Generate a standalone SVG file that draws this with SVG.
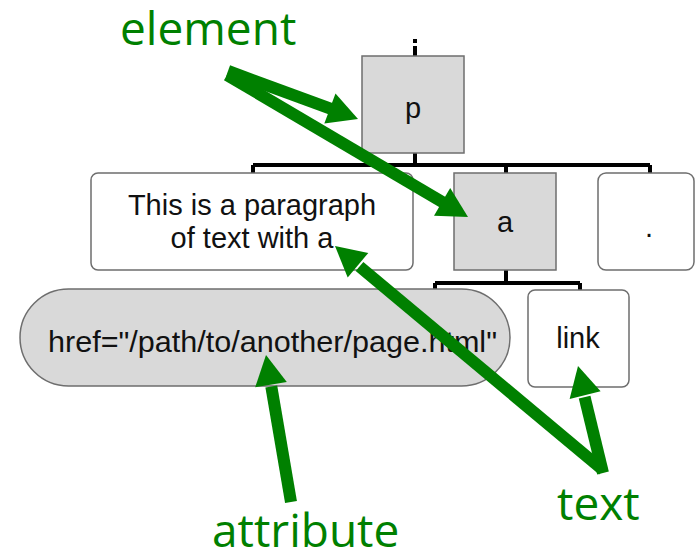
<svg xmlns="http://www.w3.org/2000/svg" width="696" height="552" viewBox="0 0 696 552">
  <style>
    .el { fill: #d9d9d9; stroke: #6e6e6e; stroke-width: 1.5; }
    .tx { fill: #ffffff; stroke: #6e6e6e; stroke-width: 1.5; }
    .lbl { font-family: "Liberation Sans", Arial, sans-serif; font-size: 29px; fill: #111111; text-anchor: middle; }
    .tree { fill: none; stroke: #000000; stroke-width: 4; }
    .note { font-family: "Open Sans", "Noto Sans", sans-serif; font-size: 46px; fill: #008000; }
    .shaft { fill: none; stroke: #008000; stroke-width: 12; }
    .head { fill: #008000; }
  </style>
  <rect width="696" height="552" fill="#ffffff"/>

  <!-- tree connectors -->
  <g id="connectors">
    <line class="tree" x1="415" y1="39" x2="415" y2="43"/>
    <line class="tree" x1="415" y1="46" x2="415" y2="56"/>
    <path class="tree" d="M415 153 V165 M253 165 H650 M253 165 V173 M506 165 V173 M650 165 V173"/>
    <path class="tree" d="M506 270 V283 M435 283 H580 M435 283 V289 M580 283 V290"/>
  </g>

  <!-- element p -->
  <g id="node-p">
    <rect class="el" x="362" y="56" width="102" height="97"/>
    <text class="lbl" x="413" y="118">p</text>
  </g>

  <!-- text node -->
  <g id="node-paragraph-text">
    <rect class="tx" x="91" y="173" width="322" height="97" rx="7"/>
    <text class="lbl" x="252" y="215">This is a paragraph</text>
    <text class="lbl" x="252" y="248">of text with a</text>
  </g>

  <!-- element a -->
  <g id="node-a">
    <rect class="el" x="454" y="173" width="102" height="97"/>
    <text class="lbl" x="505" y="232">a</text>
  </g>

  <!-- trailing period text -->
  <g id="node-period">
    <rect class="tx" x="598" y="173" width="96" height="97" rx="8"/>
    <text class="lbl" x="649" y="237">.</text>
  </g>

  <!-- attribute -->
  <g id="node-href">
    <rect class="el" x="20" y="289" width="490" height="97" rx="48.5"/>
    <text class="lbl" x="48" y="352" style="text-anchor:start" textLength="449" lengthAdjust="spacingAndGlyphs">href="/path/to/another/page.html"</text>
  </g>

  <!-- link text -->
  <g id="node-link">
    <rect class="tx" x="528" y="290" width="101" height="97" rx="7"/>
    <text class="lbl" x="578" y="348">link</text>
  </g>

  <!-- annotations -->
  <g id="annotations">
    <text class="note" x="120" y="45">element</text>
    <text class="note" x="557" y="520">text</text>
    <text class="note" x="212" y="547">attribute</text>

    <line class="shaft" x1="228" y1="71" x2="331.8" y2="109.1"/>
    <polygon class="head" points="358,119 324.3,123.4 335.5,93.4"/>

    <line class="shaft" x1="227" y1="75" x2="443.8" y2="202.9"/>
    <polygon class="head" points="468,217 434,215.7 450.2,188.1"/>

    <line class="shaft" x1="603" y1="473" x2="584.6" y2="397.1"/>
    <polygon class="head" points="578,366 600.6,391.3 569.6,398.9"/>

    <line class="shaft" x1="603" y1="470" x2="359.5" y2="266.5"/>
    <polygon class="head" points="335,246 368.3,252.9 347.7,277.5"/>

    <line class="shaft" x1="291" y1="502" x2="271.3" y2="386.6"/>
    <polygon class="head" points="266,355 286.8,381.9 255.2,387.3"/>
  </g>
</svg>
